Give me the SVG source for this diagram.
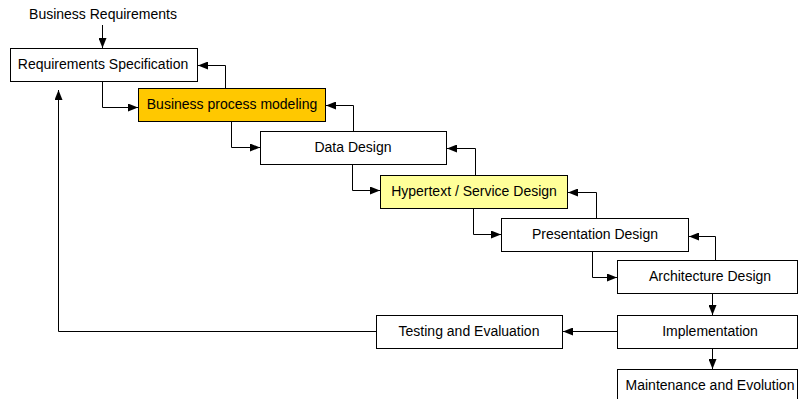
<svg xmlns="http://www.w3.org/2000/svg" width="798" height="399" viewBox="0 0 798 399">
<defs>
<marker id="ah" viewBox="0 0 10 8" refX="10" refY="4" markerWidth="10" markerHeight="8" markerUnits="userSpaceOnUse" orient="auto">
<path d="M0,0 L10,4 L0,8 Z" fill="#000"/>
</marker>
</defs>
<style>
.box{fill:#fff;stroke:#000;stroke-width:1}
.t{font-family:"Liberation Sans",Arial,sans-serif;font-size:14px;fill:#000;text-anchor:middle}
.c{fill:none;stroke:#000;stroke-width:1;marker-end:url(#ah)}
</style>
<rect width="798" height="399" fill="#fff"/>
<text class="t" x="103" y="18.5">Business Requirements</text>
<g id="req"><rect class="box" x="10.5" y="48.5" width="187" height="33"/><text class="t" x="103" y="68.5">Requirements Specification</text></g>
<g id="bpm"><rect class="box" x="138.5" y="88.5" width="187" height="33" style="fill:#FFC800"/><text class="t" x="232" y="108.5">Business process modeling</text></g>
<g id="data"><rect class="box" x="260.5" y="131.5" width="186" height="33"/><text class="t" x="353" y="151.5">Data Design</text></g>
<g id="hyper"><rect class="box" x="380.5" y="175.5" width="187" height="33" style="fill:#FFFF99"/><text class="t" x="474" y="195.5">Hypertext / Service Design</text></g>
<g id="pres"><rect class="box" x="501.5" y="218.5" width="187" height="33"/><text class="t" x="595" y="238.5">Presentation Design</text></g>
<g id="arch"><rect class="box" x="617.5" y="260.5" width="180" height="33"/><text class="t" x="710" y="280.5">Architecture Design</text></g>
<g id="impl"><rect class="box" x="617.5" y="315.5" width="180" height="33"/><text class="t" x="710" y="335.5">Implementation</text></g>
<g id="test"><rect class="box" x="376.5" y="315.5" width="186" height="33"/><text class="t" x="469" y="335.5">Testing and Evaluation</text></g>
<g id="maint"><rect class="box" x="617.5" y="369.5" width="180" height="33"/><text class="t" x="710" y="389.5">Maintenance and Evolution</text></g>
<g id="connectors">
<path class="c" d="M102.5,25 V48"/>
<path class="c" d="M102.5,82 V107.5 H138"/>
<path class="c" d="M225.5,88 V65.5 H198"/>
<path class="c" d="M231.5,122 V147.5 H260"/>
<path class="c" d="M353.5,131 V105.5 H326"/>
<path class="c" d="M352.5,165 V190.5 H380"/>
<path class="c" d="M475.5,175 V148.5 H447"/>
<path class="c" d="M473.5,209 V234.5 H501"/>
<path class="c" d="M596.5,218 V192.5 H568"/>
<path class="c" d="M592.5,252 V277.5 H617"/>
<path class="c" d="M715.5,260 V236.5 H689"/>
<path class="c" d="M712.5,294 V315"/>
<path class="c" d="M712.5,349 V369"/>
<path class="c" d="M617,331.5 H563"/>
<path class="c" d="M376,331.5 H58.5 V90"/>
</g>
</svg>
